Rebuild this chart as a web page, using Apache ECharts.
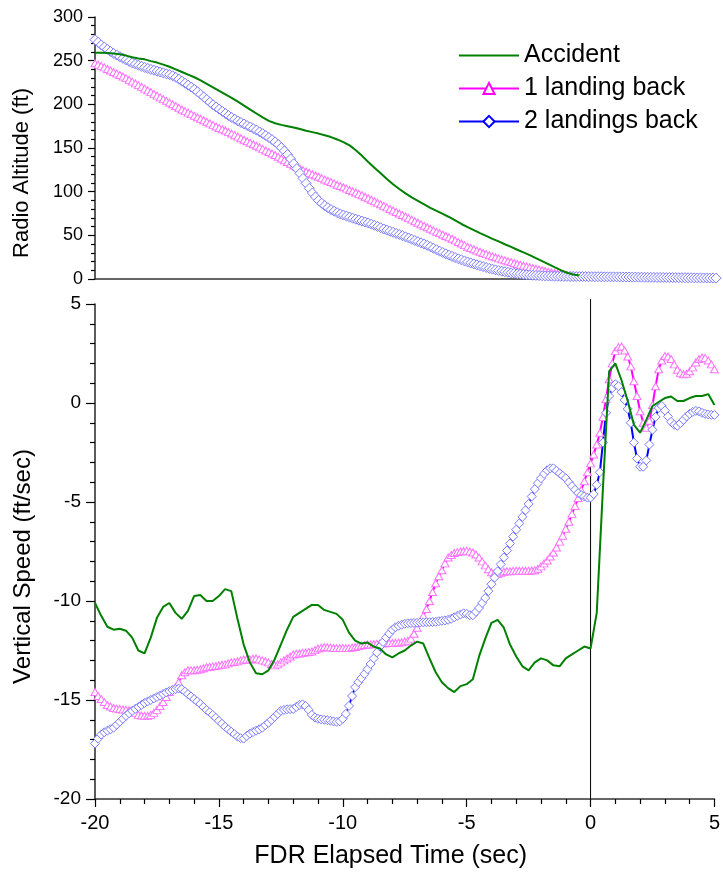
<!DOCTYPE html>
<html>
<head>
<meta charset="utf-8">
<script src="https://cdn.jsdelivr.net/npm/echarts@6/dist/echarts.min.js"></script>
<style>html,body{margin:0;padding:0;background:#fff}#c{width:723px;height:874px}</style>
</head>
<body>
<div id="c"></div>
<script>
// ---- data ----
// time grids (sec): 0.25 s for the Accident traces, 0.125 s for the marker traces
const T4 = Array.from({length: 101}, (_, i) => -20 + i * 0.25);
const T8 = Array.from({length: 201}, (_, i) => -20 + i * 0.125);

const seriesNames = ['Accident', '1 landing back', '2 landings back'];
const xTicks = [-20, -15, -10, -5, 0, 5];

// Radio altitude (ft)
const accidentAlt = [259,259,258.8,258.3,257.3,255.8,254,252.5,251.5,249.5,247.8,245.5,243,240,237,234,231,227.5,223.5,219.5,215.5,211.5,207.5,203,198.5,194,189.5,185,181,178.3,176.5,175,173.5,171.7,169.8,168.2,166.5,164.5,162.5,159.8,156.8,153,147.5,141,134,127.5,121,114.5,108.5,103,98,93.5,89.5,85.5,81.5,78,74.5,71,67,63,59.5,56,52.5,49.3,46,43,39.8,36.8,33.5,30.5,27.3,24,20.5,17,13.5,10.2,7.2,5.2,4];

const landing1Alt = [247,245.5,244,242.3,240.5,238.8,237,235.3,233.5,231.8,230,228,226,224,222,220,218,216,214,212,210,208,206,204,202,200,198,196,194,192.2,190.5,188.8,187,185.2,183.5,181.7,180,178.2,176.5,174.7,173,171.5,170,168.2,166.5,164.7,163,161.2,159.5,157.7,156,154.2,152.5,150.7,149,147.2,145.5,143.7,142,140,138,136,134,132,130,128.2,126.5,124.7,123,121.5,120,118.5,117,115.5,114,112.5,111,109.5,108,106.5,105,103.5,102,100.5,99,97.5,96,94.2,92.5,90.7,89,87.2,85.5,83.7,82,80.2,78.5,76.7,75,73.2,71.5,69.7,68,66.2,64.5,62.7,61,59.2,57.5,55.7,54,52.5,51,49.3,47.7,46,44.2,42.4,40.6,38.8,37,35.5,34,32.6,31.2,29.8,28.5,27.2,26,24.8,23.6,22.5,21.4,20.4,19.4,18.3,17.2,16.2,15.3,14.4,13.5,12.6,11.7,10.8,10,9.1,8.2,7.5,6.8,6.2,5.6,5.1,4.6,4.2,3.8,3.5,3.2,3.0,2.8,2.7,2.6];

const landing2Alt = [274,271,268,265.5,263,260.6,258.3,256.4,254.5,252.7,251,249.2,247.5,246.1,244.8,243.5,242.3,241.1,240,239,238,237,236,235,234,232.7,231,228.8,226.5,224.2,222,219.7,217.3,214.4,211.5,208.5,205.5,202.5,199.5,197,194.5,192,189.5,187.2,185,183,181,179.2,177.5,175.7,174,172.2,170.5,168.5,166.5,164.3,162,159.6,157,154,150.5,146.7,142.5,137.5,132,126.5,121,115.2,109.5,103.8,98.5,94,90,86.8,84,81.6,79.5,77.7,76,74.5,73.2,72,70.8,69.6,68.5,67.4,66.3,65.2,64.2,62.8,61.5,60.1,58.7,57.3,56,54.7,53.5,52.2,51,49.7,48.3,46.9,45.5,44.1,42.8,41.4,40,38.5,37,35.2,33.5,31.9,30.3,28.8,27.3,25.9,24.5,23.2,22,20.7,19.5,18.4,17.3,16.2,15.2,14.2,13.2,12.2,11.3,10.5,9.7,9,8.3,7.7,7.1,6.6,6.1,5.7,5.3,4.9,4.6,4.3,4.1,3.9,3.7,3.5,3.4,3.3,3.2,3.2,3.1,3.0,3.0,2.9,2.9,2.8,2.8,2.8,2.8,2.7,2.7,2.6,2.6,2.6,2.5,2.5,2.5,2.5,2.4,2.4,2.3,2.3,2.3,2.2,2.2,2.1,2.1,2.0,2.0,1.9,1.9,1.8,1.8,1.8,1.7,1.7,1.6,1.6,1.5,1.5,1.5,1.4,1.4,1.3,1.3,1.3,1.2,1.2,1.1,1.1,1.0,1.0,0.9,0.9,0.9,0.8,0.8];

// Vertical speed (ft/sec)
const accidentVs = [-10.1,-10.75,-11.3,-11.45,-11.4,-11.5,-11.85,-12.5,-12.65,-11.85,-10.85,-10.3,-10.1,-10.6,-10.9,-10.5,-9.75,-9.7,-10.0,-10.0,-9.75,-9.4,-9.5,-10.9,-12.2,-13.1,-13.65,-13.7,-13.5,-12.95,-12.2,-11.45,-10.8,-10.6,-10.4,-10.2,-10.2,-10.45,-10.55,-10.65,-10.95,-11.6,-12.0,-12.15,-12.1,-12.3,-12.4,-12.7,-12.85,-12.65,-12.5,-12.25,-12.05,-12.15,-12.9,-13.6,-14.1,-14.4,-14.6,-14.3,-14.2,-13.95,-12.8,-11.9,-11.1,-10.95,-11.35,-12.2,-12.8,-13.3,-13.5,-13.1,-12.9,-13.0,-13.25,-13.3,-12.9,-12.7,-12.5,-12.3,-12.4,-10.6,-4.3,1.6,2.0,1.15,0.1,-1.1,-1.5,-0.85,-0.15,0.05,0.25,0.33,0.1,0.1,0.25,0.35,0.35,0.45,-0.1];

const landing1Vs = [-14.6,-14.8,-14.95,-15.1,-15.25,-15.33,-15.4,-15.43,-15.45,-15.48,-15.5,-15.52,-15.55,-15.65,-15.75,-15.78,-15.8,-15.8,-15.75,-15.65,-15.5,-15.3,-15.1,-14.85,-14.6,-14.45,-14.35,-14.1,-13.75,-13.6,-13.5,-13.5,-13.5,-13.47,-13.45,-13.4,-13.35,-13.32,-13.3,-13.28,-13.25,-13.22,-13.2,-13.15,-13.1,-13.08,-13.05,-13.0,-12.95,-12.95,-12.95,-12.92,-12.9,-12.95,-13.0,-13.05,-13.1,-13.18,-13.25,-13.2,-13.1,-13.0,-12.9,-12.8,-12.7,-12.67,-12.65,-12.62,-12.6,-12.58,-12.55,-12.48,-12.4,-12.36,-12.33,-12.34,-12.35,-12.37,-12.38,-12.38,-12.38,-12.38,-12.38,-12.35,-12.32,-12.28,-12.25,-12.22,-12.2,-12.19,-12.18,-12.16,-12.15,-12.14,-12.13,-12.12,-12.12,-12.11,-12.1,-12.08,-12.05,-12.0,-11.9,-11.65,-11.35,-11.05,-10.75,-10.4,-10.0,-9.55,-9.1,-8.75,-8.45,-8.1,-7.8,-7.68,-7.58,-7.53,-7.5,-7.48,-7.47,-7.5,-7.55,-7.65,-7.8,-8.0,-8.2,-8.4,-8.55,-8.6,-8.62,-8.58,-8.52,-8.5,-8.5,-8.48,-8.47,-8.47,-8.47,-8.47,-8.47,-8.46,-8.45,-8.37,-8.25,-8.1,-7.95,-7.75,-7.55,-7.3,-7.0,-6.7,-6.35,-6.0,-5.6,-5.2,-4.8,-4.4,-3.95,-3.5,-3.05,-2.6,-2.1,-1.5,-0.7,0.2,1.2,2.0,2.62,2.82,2.85,2.65,2.35,1.85,1.1,0.35,-0.42,-1.0,-1.25,-0.9,-0.1,0.85,1.7,2.15,2.37,2.35,2.22,1.95,1.68,1.52,1.45,1.48,1.6,1.8,2.05,2.22,2.3,2.28,2.15,1.95,1.7];

const landing2Vs = [-17.2,-16.95,-16.75,-16.63,-16.55,-16.48,-16.4,-16.25,-16.1,-15.95,-15.8,-15.67,-15.55,-15.45,-15.35,-15.25,-15.15,-15.07,-15.0,-14.92,-14.85,-14.78,-14.7,-14.62,-14.55,-14.5,-14.45,-14.42,-14.45,-14.57,-14.7,-14.82,-14.95,-15.07,-15.2,-15.35,-15.5,-15.62,-15.75,-15.9,-16.05,-16.2,-16.35,-16.48,-16.6,-16.72,-16.85,-16.93,-16.95,-16.82,-16.7,-16.62,-16.55,-16.48,-16.4,-16.28,-16.15,-16.0,-15.85,-15.7,-15.55,-15.5,-15.47,-15.46,-15.45,-15.35,-15.25,-15.22,-15.3,-15.5,-15.75,-15.88,-15.95,-15.98,-16.0,-16.02,-16.05,-16.08,-16.1,-16.08,-15.95,-15.7,-15.3,-14.8,-14.35,-14.1,-13.9,-13.68,-13.45,-13.18,-12.9,-12.6,-12.3,-12.07,-11.85,-11.65,-11.45,-11.33,-11.25,-11.2,-11.15,-11.13,-11.12,-11.11,-11.1,-11.09,-11.08,-11.07,-11.07,-11.06,-11.05,-11.02,-11.0,-10.98,-10.95,-10.9,-10.82,-10.75,-10.68,-10.62,-10.65,-10.72,-10.72,-10.55,-10.35,-10.1,-9.85,-9.5,-9.15,-8.82,-8.5,-8.15,-7.8,-7.45,-7.1,-6.75,-6.4,-6.08,-5.75,-5.42,-5.1,-4.72,-4.35,-4.05,-3.8,-3.58,-3.4,-3.3,-3.3,-3.42,-3.55,-3.67,-3.8,-4.0,-4.2,-4.38,-4.55,-4.65,-4.72,-4.78,-4.78,-4.6,-4.13,-3.5,-2.0,-0.5,0.35,0.75,0.95,0.85,0.55,0.15,-0.3,-1.0,-2.0,-2.8,-3.22,-3.22,-2.9,-2.1,-1.35,-0.7,-0.25,-0.15,-0.38,-0.68,-0.95,-1.1,-1.15,-1.02,-0.85,-0.68,-0.55,-0.45,-0.4,-0.42,-0.5,-0.55,-0.58,-0.6,-0.6];

// ---- chart ----
const FONT = 'Liberation Sans, Arial, sans-serif';
const pair = (ts, vs) => vs.map((v, i) => [ts[i], v]);

const GREEN = '#008000', MAG = '#ff00ff', MAG_M = '#ff70ff', BLUE = '#0000ff', BLUE_M = '#7a7aff';

function xAxisCfg(grid, withLabels) {
  return {
    type: 'value', gridIndex: grid, min: -20, max: 5, interval: 5,
    axisLine: {show: true, onZero: false, lineStyle: {color: '#333', width: 1.6}},
    axisTick: {show: withLabels, length: 8, lineStyle: {color: '#000', width: 1.2}},
    minorTick: {show: withLabels, splitNumber: 5, length: 5, lineStyle: {color: '#000', width: 1.2}},
    axisLabel: {show: withLabels, fontSize: 20, color: '#000', fontFamily: FONT, margin: 14},
    splitLine: {show: false}, minorSplitLine: {show: false},
    name: withLabels ? 'FDR Elapsed Time (sec)' : '',
    nameLocation: 'middle', nameGap: 45,
    nameTextStyle: {fontSize: 25, color: '#000', fontFamily: FONT, padding: [0, 28, 0, 0]}
  };
}

function markerSeries(name, grid, data, lineColor, mColor, symbol, size) {
  return {
    name, type: 'line', xAxisIndex: grid, yAxisIndex: grid, data,
    symbol, symbolSize: size, showSymbol: true, showAllSymbol: true,
    lineStyle: {color: lineColor, width: 2},
    itemStyle: {color: '#fff', borderColor: mColor, borderWidth: 1},
    emphasis: {disabled: true}, z: 2, animation: false
  };
}

const chart = echarts.init(document.getElementById('c'), null, {renderer: 'canvas'});
chart.setOption({
  animation: false,
  backgroundColor: '#fff',
  grid: [
    {left: 95, top: 17, width: 621, height: 262},
    {left: 95, top: 304, width: 622, height: 498}
  ],
  xAxis: [xAxisCfg(0, false), xAxisCfg(1, true)],
  yAxis: [
    {
      type: 'value', gridIndex: 0, min: 0, max: 300, interval: 50,
      axisLine: {show: true, onZero: false, lineStyle: {color: '#333', width: 1.6}},
      axisTick: {show: true, length: 7, lineStyle: {color: '#000', width: 1.2}},
      minorTick: {show: true, splitNumber: 5, length: 4, lineStyle: {color: '#000', width: 1.2}},
      axisLabel: {fontSize: 18, color: '#000', fontFamily: FONT, margin: 12},
      splitLine: {show: false},
      name: 'Radio Altitude (ft)', nameLocation: 'middle', nameGap: 62,
      nameTextStyle: {fontSize: 22, color: '#000', fontFamily: FONT, padding: [0, 50, 0, 0]}
    },
    {
      type: 'value', gridIndex: 1, min: -20, max: 5, interval: 5,
      axisLine: {show: true, onZero: false, lineStyle: {color: '#333', width: 1.6}},
      axisTick: {show: true, length: 9, lineStyle: {color: '#000', width: 1.2}},
      minorTick: {show: true, splitNumber: 5, length: 5, lineStyle: {color: '#000', width: 1.2}},
      axisLabel: {fontSize: 19, color: '#000', fontFamily: FONT, margin: 14},
      splitLine: {show: false},
      name: 'Vertical Speed (ft/sec)', nameLocation: 'middle', nameGap: 60,
      nameTextStyle: {fontSize: 24, color: '#000', fontFamily: FONT, padding: [0, 30, 0, 0]}
    }
  ],
  legend: {
    left: 453, top: 38, orient: 'vertical', itemWidth: 60, itemHeight: 14, itemGap: 8,
    textStyle: {fontSize: 25, color: '#000', fontFamily: FONT, lineHeight: 25},
    selectedMode: false,
    data: [
      {name: seriesNames[0], itemStyle: {opacity: 0}},
      {name: seriesNames[1], itemStyle: {borderColor: MAG}},
      {name: seriesNames[2], itemStyle: {borderColor: BLUE}}
    ]
  },
  series: [
    markerSeries(seriesNames[1], 0, pair(T8, landing1Alt), MAG, MAG_M, 'triangle', [8, 7]),
    markerSeries(seriesNames[2], 0, pair(T8, landing2Alt), BLUE, BLUE_M, 'diamond', [10, 10]),
    {
      name: seriesNames[0], type: 'line', xAxisIndex: 0, yAxisIndex: 0,
      data: pair(T4, accidentAlt), symbol: 'none', lineStyle: {color: GREEN, width: 2},
      itemStyle: {color: GREEN}, z: 4, animation: false
    },
    markerSeries(seriesNames[1], 1, pair(T8, landing1Vs), MAG, MAG_M, 'triangle', [8, 7]),
    markerSeries(seriesNames[2], 1, pair(T8, landing2Vs), BLUE, BLUE_M, 'diamond', [9, 9]),
    {
      name: seriesNames[0], type: 'line', xAxisIndex: 1, yAxisIndex: 1,
      data: pair(T4, accidentVs), symbol: 'none', lineStyle: {color: GREEN, width: 2},
      itemStyle: {color: GREEN}, z: 4, animation: false
    },
    {
      name: 'touchdown', type: 'line', xAxisIndex: 1, yAxisIndex: 1,
      data: [[0, -20], [0, 5.25]], clip: false, symbol: 'none', silent: true,
      lineStyle: {color: '#000', width: 1}, z: 1, animation: false
    }
  ]
});
</script>
</body>
</html>
